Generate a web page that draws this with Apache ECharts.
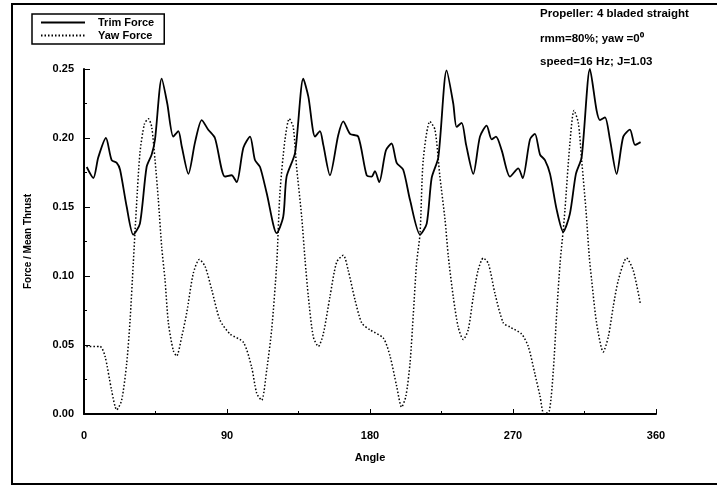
<!DOCTYPE html>
<html>
<head>
<meta charset="utf-8">
<script src="https://cdn.jsdelivr.net/npm/echarts@6/dist/echarts.min.js"></script>
<style>
  html, body { margin: 0; padding: 0; background: #fff; }
  #chart { width: 717px; height: 486px; }
</style>
</head>
<body>
<div id="chart"></div>
<script>
// angle (deg) and force / mean thrust
var trimAngle = [1.7, 5.9, 9, 13.8, 17.4, 20.6, 22.7, 26.9, 31, 35.2, 39.4, 42.6, 44.7, 48.9, 52.4, 56.2, 59.4, 61.5, 65.7, 69.9,
    74.1, 78.2, 82.4, 88.7, 92.9, 96.1, 100.3, 104.5, 107.6, 110.8, 115, 121.3, 125.4, 127.5, 132.8, 138, 141.2, 145.4, 148.5, 150.6,
    154.8, 160, 163.2, 167.4, 172.6, 177.9, 181, 183.1, 185.8, 190, 193.6, 196.8, 200.9, 205.2, 211.5, 215.7, 218.8, 223, 228.2, 232.4,
    234.5, 237.7, 240.5, 245, 249.2, 253.4, 256.6, 259.3, 262.9, 268.1, 273.3, 276.1, 280.7, 283.8, 287, 290.1, 293.3, 297.5, 301.6, 305.8,
    309.6, 313.2, 318.4, 322.6, 324.7, 327.9, 331, 335.2, 339.4, 343.6, 346.8, 350.3];
var trimForce = [0.179, 0.171, 0.186, 0.200, 0.184, 0.182, 0.177, 0.150, 0.130, 0.138, 0.179, 0.188, 0.199, 0.243, 0.225, 0.201, 0.205, 0.194, 0.174, 0.197,
    0.213, 0.206, 0.200, 0.172, 0.173, 0.168, 0.193, 0.201, 0.184, 0.179, 0.160, 0.131, 0.143, 0.172, 0.189, 0.243, 0.230, 0.201, 0.205, 0.195,
    0.173, 0.202, 0.212, 0.203, 0.201, 0.173, 0.172, 0.176, 0.168, 0.191, 0.196, 0.182, 0.177, 0.155, 0.130, 0.138, 0.171, 0.186, 0.249, 0.225,
    0.208, 0.211, 0.195, 0.174, 0.201, 0.209, 0.199, 0.201, 0.191, 0.172, 0.178, 0.171, 0.199, 0.203, 0.188, 0.184, 0.174, 0.148, 0.132, 0.145,
    0.174, 0.186, 0.250, 0.220, 0.213, 0.215, 0.199, 0.174, 0.201, 0.206, 0.195, 0.197];

var yawAngle = [1.5, 10, 13.2, 17.4, 20.6, 23.7, 26.9, 29, 31, 33, 35.2, 38, 40.5, 42.6, 44.7, 46.8, 48.9, 51, 53.1, 56.2,
    58.3, 61.5, 64.6, 68.8, 72.6, 76.2, 80.4, 85.6, 91.9, 100.3, 105.5, 108.7, 111.8, 115, 118.1, 121.3, 123.3, 126.5, 129.2, 131.7,
    133.8, 137, 139.1, 141.2, 144.3, 147.5, 150.6, 154.8, 159, 163.2, 166.3, 170.5, 174.8, 180, 188.4, 192.6, 196.8, 199.9, 202.6, 205.2,
    207.3, 209.3, 211.5, 213.5, 217.7, 220.9, 224, 227.2, 229.3, 232.4, 235.5, 238.7, 241.8, 245, 248, 251.3, 254.5, 258.7, 263.9, 268.1,
    275.4, 279.6, 283.8, 287, 289.5, 292.8, 295.4, 297.5, 299.6, 301.6, 302.7, 305.8, 308.4, 311.1, 313.2, 315.9, 318, 319.5, 322.6, 326.8,
    330, 333.1, 336.3, 341.5, 345.7, 350.3];
var yawForce = [0.049, 0.049, 0.042, 0.017, 0.003, 0.010, 0.037, 0.068, 0.109, 0.150, 0.189, 0.210, 0.214, 0.208, 0.184, 0.155, 0.121, 0.097, 0.066, 0.046,
    0.042, 0.056, 0.073, 0.102, 0.112, 0.107, 0.090, 0.068, 0.058, 0.052, 0.034, 0.015, 0.010, 0.032, 0.061, 0.109, 0.160, 0.199, 0.214, 0.208,
    0.179, 0.143, 0.112, 0.085, 0.056, 0.049, 0.058, 0.085, 0.110, 0.115, 0.104, 0.083, 0.066, 0.061, 0.055, 0.042, 0.020, 0.005, 0.013, 0.037,
    0.073, 0.109, 0.131, 0.184, 0.212, 0.206, 0.172, 0.141, 0.114, 0.085, 0.063, 0.054, 0.061, 0.085, 0.104, 0.113, 0.109, 0.087, 0.066, 0.063,
    0.058, 0.049, 0.029, 0.013, 0.000, 0.002, 0.032, 0.073, 0.109, 0.133, 0.148, 0.196, 0.220, 0.211, 0.184, 0.148, 0.114, 0.097, 0.066, 0.045,
    0.056, 0.078, 0.097, 0.113, 0.104, 0.079];

var notes = ['Propeller: 4 bladed straight', 'rmm=80%; yaw =0\u2070', 'speed=16 Hz; J=1.03'];

function pairs(xs, ys) {
    var out = [];
    for (var i = 0; i < xs.length; i++) out.push([xs[i], ys[i]]);
    return out;
}

var font = 'Liberation Sans';
var txt = { fontFamily: font, fontSize: 11, fontWeight: 'bold', color: '#000' };
var chart = echarts.init(document.getElementById('chart'));

var option = {
    backgroundColor: '#fff',
    animation: false,
    textStyle: { fontFamily: font, color: '#000' },
    grid: { left: 84, right: 61, top: 69, bottom: 72 },
    legend: {
        orient: 'vertical',
        left: 32,
        top: 14,
        padding: [3, 10, 3, 8],
        itemGap: 2,
        itemWidth: 44,
        itemHeight: 12,
        borderColor: '#000',
        borderWidth: 1.5,
        itemStyle: { opacity: 0 },
        textStyle: { fontFamily: font, fontSize: 11, fontWeight: 'bold', color: '#000', padding: [0, 0, 0, 8] },
        data: ['Trim Force', 'Yaw Force']
    },
    xAxis: {
        type: 'value',
        min: 0,
        max: 360,
        interval: 90,
        offset: 5,
        name: 'Angle',
        nameLocation: 'middle',
        nameGap: 33,
        nameTextStyle: txt,
        axisLine: { lineStyle: { color: '#000', width: 2 } },
        axisTick: { inside: true, length: 5, lineStyle: { color: '#000' } },
        minorTick: { show: true, splitNumber: 2, length: 3, lineStyle: { color: '#000' } },
        axisLabel: { fontFamily: font, fontSize: 11, fontWeight: 'bold', color: '#000', margin: 11 },
        splitLine: { show: false }
    },
    yAxis: {
        type: 'value',
        min: 0,
        max: 0.25,
        interval: 0.05,
        name: 'Force / Mean Thrust',
        nameLocation: 'middle',
        nameGap: 51,
        nameTextStyle: { fontFamily: font, fontSize: 10, fontWeight: 'bold', color: '#000' },
        axisLine: { show: true, lineStyle: { color: '#000', width: 2 } },
        axisTick: { show: true, inside: true, length: 6, lineStyle: { color: '#000' } },
        minorTick: { show: true, splitNumber: 2, length: 3, lineStyle: { color: '#000' } },
        axisLabel: {
            fontFamily: font, fontSize: 11, fontWeight: 'bold', color: '#000', margin: 10,
            formatter: function (v) { return v.toFixed(2); }
        },
        splitLine: { show: false }
    },
    series: [{
        name: 'Trim Force',
        type: 'line',
        data: pairs(trimAngle, trimForce),
        smooth: 0.25,
        symbol: 'none',
        lineStyle: { color: '#000', width: 1.8, type: 'solid' },
        itemStyle: { color: '#000' }
    }, {
        name: 'Yaw Force',
        type: 'line',
        data: pairs(yawAngle, yawForce),
        smooth: 0.25,
        symbol: 'none',
        lineStyle: { color: '#000', width: 1.5, type: [1.5, 2] },
        itemStyle: { color: '#000' }
    }],
    graphic: [{
        type: 'polyline',
        shape: { points: [[717, 4], [12, 4], [12, 484], [717, 484]] },
        style: { stroke: '#000', lineWidth: 2, fill: null }
    }].concat(notes.map(function (t, i) {
        return {
            type: 'text',
            left: 540,
            top: [8, 33, 56][i],
            style: { text: t, font: 'bold 11.5px "Liberation Sans"', fill: '#000' }
        };
    }))
};

chart.setOption(option);
</script>
</body>
</html>
